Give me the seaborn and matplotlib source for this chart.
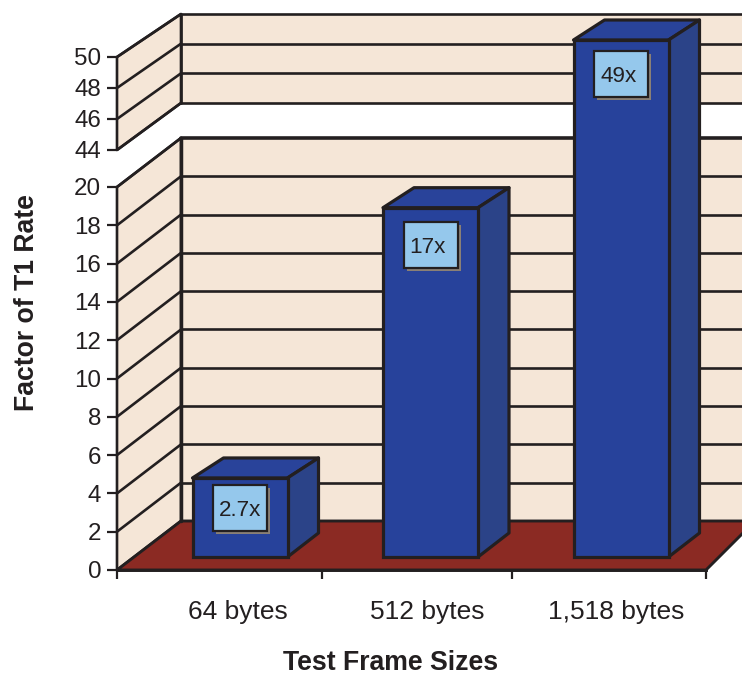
import numpy as np
import matplotlib
matplotlib.use("Agg")
import matplotlib.pyplot as plt
from matplotlib.patches import Polygon
from matplotlib.transforms import IdentityTransform
import seaborn as sns

# Chart data
frame_sizes = ["64 bytes", "512 bytes", "1,518 bytes"]
t1_factors = [2.7, 17, 49]
factor_labels = ["2.7x", "17x", "49x"]
lower_ticks = list(range(0, 21, 2))
upper_ticks = [44, 46, 48, 50]

# Palette
INK = "#231F20"
WALL = "#F5E6D7"
FLOOR = "#8B2A23"
BAR_FRONT = "#27429B"
BAR_TOP = "#29439A"
BAR_SIDE = "#2B4388"
BOX = "#95C8EC"
SHADOW = "#8A8076"

sns.set_theme(style="white")
plt.rcParams["font.family"] = ["Liberation Sans", "DejaVu Sans"]

W, H = 742, 677
fig = plt.figure(figsize=(W / 100, H / 100), dpi=100, facecolor="white")


def broken_scale(low_slope, anchor_v, anchor_h, high_slope):
    """Piecewise linear value axis: 0-20 and the 44-50 band, with a gap squeezed between."""
    h20 = 20 * low_slope

    def forward(v):
        v = np.asarray(v, dtype=float)
        gap = h20 + (v - 20) * (anchor_h - h20) / (anchor_v - 20)
        return np.where(v <= 20, v * low_slope,
                        np.where(v >= anchor_v, anchor_h + (v - anchor_v) * high_slope, gap))

    def inverse(h):
        h = np.asarray(h, dtype=float)
        gap = 20 + (h - h20) * (anchor_v - 20) / (anchor_h - h20)
        return np.where(h <= h20, h / low_slope,
                        np.where(h >= anchor_h, anchor_v + (h - anchor_h) / high_slope, gap))

    return forward, inverse


def add_axes_px(left, top, right, bottom, zorder):
    ax = fig.add_axes([left / W, (H - bottom) / H, (right - left) / W, (bottom - top) / H],
                      zorder=zorder)
    ax.patch.set_alpha(0)
    return ax


def px_poly(ax, pts, **kw):
    """Polygon given in screen pixels measured from the top-left corner."""
    xy = np.array([(x, H - y) for x, y in pts])
    p = Polygon(xy, closed=True, transform=IdentityTransform(), clip_on=False, **kw)
    ax.add_patch(p)
    return p


def screen(ax, x, v):
    """Data position on an axes, as top-left based pixels."""
    dx, dy = ax.transData.transform((x, v))
    return dx, H - dy


# Back plane of the chart box
back_ax = add_axes_px(181, 14, 742, 521, 1)
back_ax.set_yscale("function", functions=broken_scale(19.15, 44, 418, 14.83))
back_ax.set_ylim(0, 50)
back_ax.set_xlim(0, 1)
back_ax.axis("off")

# Front plane: carries the real axes, ticks and labels
front_ax = add_axes_px(117, 57, 706, 570, 2)
front_ax.set_yscale("function", functions=broken_scale(19.15, 44, 420, 15.5))
front_ax.set_ylim(0, 50)
front_ax.set_xlim(-0.64, 2.476)
sns.despine(ax=front_ax, top=True, right=True, left=True, bottom=False)
front_ax.spines["bottom"].set_color(INK)
front_ax.spines["bottom"].set_linewidth(2.1)
front_ax.set_yticks(lower_ticks + upper_ticks)
front_ax.set_yticklabels([str(t) for t in lower_ticks + upper_ticks])
front_ax.tick_params(axis="y", which="major", left=True, length=7, width=1.6, color=INK,
                     labelsize=17.4, labelcolor=INK, pad=4.5)
front_ax.set_xticks([-0.64, 0.444, 1.45, 2.476])
front_ax.set_xticklabels(["", "", "", ""])
front_ax.set_xticks([0, 1, 2], minor=True)
front_ax.set_xticklabels(frame_sizes, minor=True)
front_ax.tick_params(axis="x", which="major", bottom=True, length=6.5, width=1.6, color=INK)
front_ax.tick_params(axis="x", which="minor", bottom=False, length=0, pad=21.3,
                     labelsize=19, labelcolor=INK)
front_ax.set_xlabel("Test Frame Sizes", fontsize=19.2, fontweight="bold", color=INK, va="center")
front_ax.xaxis.set_label_coords((391 - 117) / 589, (570 - 663.5) / 513)
front_ax.set_ylabel("Factor of T1 Rate", fontsize=19.2, fontweight="bold", color=INK, va="center")
front_ax.yaxis.set_label_coords((27 - 117) / 589, (570 - 303) / 513)

# Walls and floor, both wall bands separated by the axis break
band_edges = [(0, 20, 2.5), (44, 50, 1.9)]
for lo, hi, lw in band_edges:
    b_lo = screen(back_ax, 0, lo)
    b_hi = screen(back_ax, 0, hi)
    f_lo = screen(front_ax, -0.64, lo)
    f_hi = screen(front_ax, -0.64, hi)
    px_poly(back_ax, [b_lo, (W + 5, b_lo[1]), (W + 5, b_hi[1]), b_hi],
            facecolor=WALL, edgecolor="none", zorder=1)
    px_poly(back_ax, [f_lo, b_lo, b_hi, f_hi], facecolor=WALL, edgecolor=INK,
            linewidth=1.9, joinstyle="round", zorder=2)
    back_ax.plot([0, 0], [lo, hi], color=INK, lw=lw, clip_on=False, zorder=3)

f0 = screen(front_ax, -0.64, 0)
fr = screen(front_ax, 2.476, 0)
b0 = screen(back_ax, 0, 0)
px_poly(back_ax, [f0, b0, (fr[0] + 49, b0[1]), fr], facecolor=FLOOR, edgecolor=INK,
        linewidth=2.1, zorder=2.5)

# Gridlines on both the back and the left wall
for tick in lower_ticks + upper_ticks:
    heavy = 2.6 if tick == 20 else 1.9
    back_ax.plot([0, 1.01], [tick, tick], color=INK, lw=heavy, clip_on=False, zorder=2.2)
    if tick == 0:
        continue
    fx, fy = screen(front_ax, -0.64, tick)
    bx, by = screen(back_ax, 0, tick)
    px_poly(back_ax, [(fx, fy), (bx, by)], fill=False, edgecolor=INK, linewidth=1.9, zorder=2.2)

# Bars, on their own plane inside the chart box
bar_ax = fig.add_axes([0, 0, 1, 1], zorder=3)
bar_forward, bar_inverse = broken_scale(18.9, 44, 489 - 5 * 15.5, 15.5)
sns.barplot(x=frame_sizes, y=t1_factors, color=BAR_FRONT, saturation=1, width=95 / 190.5,
            edgecolor=INK, linewidth=2.3, ax=bar_ax, zorder=3)
bar_ax.set_yscale("function", functions=(bar_forward, bar_inverse))
bar_ax.set_ylim(float(bar_inverse(529 - H)), float(bar_inverse(529)))
bar_ax.set_xlim(-240 / 190.5, (W - 240) / 190.5)
bar_ax.patch.set_alpha(0)
bar_ax.axis("off")

# The bars stand on the floor, a little below the plane's zero
bar_base = -28 / 18.9
label_drop = [30, 37, 34]
label_shift = [0, -3, -2]
DEPTH_X, DEPTH_TOP, DEPTH_FOOT = 31, 20, 24

for i, (patch, value, text) in enumerate(zip(bar_ax.patches, t1_factors, factor_labels)):
    patch.set_y(bar_base)
    patch.set_height(value - bar_base)
    patch.set_joinstyle("miter")
    x0 = patch.get_x()
    x1 = x0 + patch.get_width()
    lx, ty = screen(bar_ax, x0, value)
    rx, by = screen(bar_ax, x1, bar_base)

    px_poly(bar_ax, [(lx, ty), (rx, ty), (rx + DEPTH_X, ty - DEPTH_TOP), (lx + DEPTH_X, ty - DEPTH_TOP)],
            facecolor=BAR_TOP, edgecolor=INK, linewidth=2.3, joinstyle="round", zorder=2)
    px_poly(bar_ax, [(rx, ty), (rx + DEPTH_X, ty - DEPTH_TOP), (rx + DEPTH_X, by - DEPTH_FOOT), (rx, by)],
            facecolor=BAR_SIDE, edgecolor=INK, linewidth=2.3, joinstyle="round", zorder=2)

    # Value call-out with its drop shadow
    cx = (lx + rx) / 2
    cy = ty + label_drop[i]
    hw, hh = 27, 23
    px_poly(bar_ax, [(cx - hw + 3, cy - hh + 3), (cx + hw + 3, cy - hh + 3),
                     (cx + hw + 3, cy + hh + 3), (cx - hw + 3, cy + hh + 3)],
            facecolor=SHADOW, edgecolor="none", zorder=4)
    px_poly(bar_ax, [(cx - hw, cy - hh), (cx + hw, cy - hh), (cx + hw, cy + hh), (cx - hw, cy + hh)],
            facecolor=BOX, edgecolor=INK, linewidth=1.6, zorder=5)
    bar_ax.text(cx + label_shift[i], H - cy, text, transform=IdentityTransform(), ha="center",
                va="center_baseline", fontsize=16.2, color=INK, zorder=6)

fig.savefig("out.png", dpi=100)
